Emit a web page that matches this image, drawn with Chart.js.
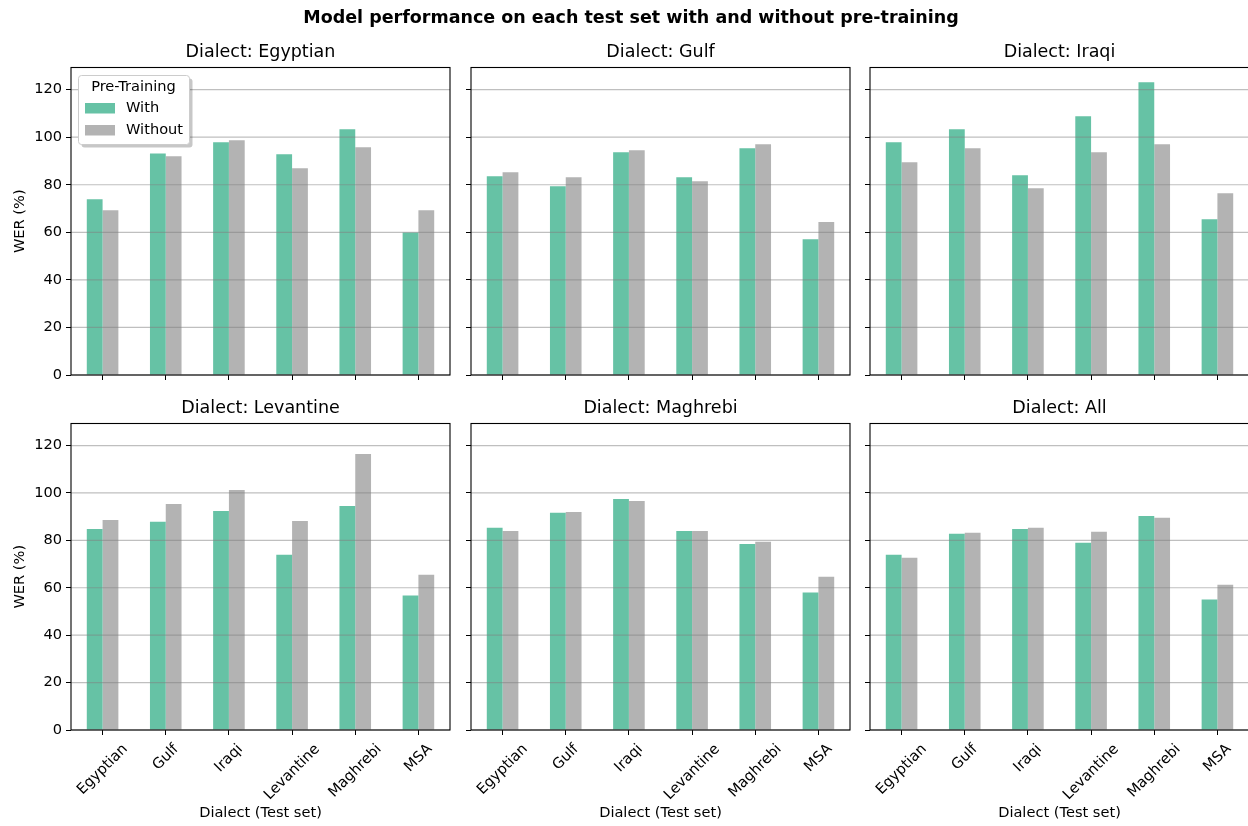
<!DOCTYPE html>
<html>
<head>
<meta charset="utf-8">
<title>WER by dialect</title>
<script src="https://cdn.jsdelivr.net/npm/chart.js@4.4.1/dist/chart.umd.min.js"></script>
<style>
  html, body { margin: 0; padding: 0; background: #fff; overflow: hidden; }
  #fig { position: relative; width: 1248px; height: 826px; overflow: hidden; }
  #fig canvas { position: absolute; left: 0; top: 0; }
</style>
</head>
<body>
<div id="fig"></div>
<script>
// test sets on the x axis
const categories = ["Egyptian", "Gulf", "Iraqi", "Levantine", "Maghrebi", "MSA"];
const seriesLabels = ["With", "Without"];
const yTicks = [0, 20, 40, 60, 80, 100, 120];

// WER (%) per training dialect, with / without pre-training
const egyptianWith = [73.9, 93.1, 97.9, 92.8, 103.3, 59.9];
const egyptianWithout = [69.3, 92.0, 98.7, 86.9, 95.8, 69.3];
const gulfWith = [83.6, 79.4, 93.7, 83.2, 95.3, 57.1];
const gulfWithout = [85.3, 83.2, 94.5, 81.5, 97.0, 64.3];
const iraqiWith = [97.9, 103.3, 84.0, 108.8, 123.1, 65.5];
const iraqiWithout = [89.5, 95.3, 78.5, 93.7, 97.0, 76.4];
const levantineWith = [84.8, 87.8, 92.4, 73.9, 94.5, 56.7];
const levantineWithout = [88.6, 95.3, 101.2, 88.2, 116.4, 65.5];
const maghrebiWith = [85.3, 91.6, 97.5, 84.0, 78.5, 58.0];
const maghrebiWithout = [84.0, 92.0, 96.6, 84.0, 79.4, 64.7];
const allWith = [73.9, 82.8, 84.8, 79.0, 90.3, 55.0];
const allWithout = [72.7, 83.2, 85.3, 83.6, 89.5, 61.3];

const panels = [
  { title: "Dialect: Egyptian", with: egyptianWith, without: egyptianWithout },
  { title: "Dialect: Gulf", with: gulfWith, without: gulfWithout },
  { title: "Dialect: Iraqi", with: iraqiWith, without: iraqiWithout },
  { title: "Dialect: Levantine", with: levantineWith, without: levantineWithout },
  { title: "Dialect: Maghrebi", with: maghrebiWith, without: maghrebiWithout },
  { title: "Dialect: All", with: allWith, without: allWithout }
];

const FONT = "'DejaVu Sans', sans-serif";
const TICK_SIZE = 14.6;
const COLORS = ["#66c2a5", "#b3b3b3"];
const Y_MAX = 129.3;

const W = 1250, H = 826;
const colLeft = [71, 471, 870];
const colRight = [450, 850, 1249];
const rowTop = [67.5, 423.5];
const rowBottom = [375, 730];
const Y_AXIS_W = 45, X_AXIS_H = 60;

const fig = document.getElementById("fig");

panels.forEach((p, i) => makePanel(p, i));

// ======================
// PANEL
// ======================

function makePanel(p, idx) {
  const row = Math.floor(idx / 3);
  const col = idx % 3;
  const L = colLeft[col], R = colRight[col], T = rowTop[row], B = rowBottom[row];

  const canvas = document.createElement("canvas");
  canvas.width = W;
  canvas.height = H;
  fig.appendChild(canvas);

  const decor = {
    id: "decor" + idx,
    afterDatasetsDraw(chart) {
      const ctx = chart.ctx;
      const area = chart.chartArea;
      const y = chart.scales.y;

      // horizontal grid on top of the bars
      ctx.save();
      ctx.strokeStyle = "rgba(128,128,128,0.5)";
      ctx.lineWidth = 1.2;
      yTicks.forEach(v => {
        const py = y.getPixelForValue(v);
        ctx.beginPath();
        ctx.moveTo(area.left, py);
        ctx.lineTo(area.right, py);
        ctx.stroke();
      });

      // axes frame
      ctx.strokeStyle = "#000";
      ctx.lineWidth = 1.1;
      ctx.strokeRect(area.left, area.top, area.right - area.left, area.bottom - area.top);
      ctx.restore();
    },
    afterDraw(chart) {
      const ctx = chart.ctx;
      const area = chart.chartArea;
      const cx = (area.left + area.right) / 2;

      ctx.save();
      ctx.fillStyle = "#000";
      ctx.textAlign = "center";
      ctx.textBaseline = "middle";

      // subplot title
      ctx.font = `17.5px ${FONT}`;
      ctx.fillText(p.title, cx, area.top - 15.5);

      // y axis title on the left column
      ctx.font = `${TICK_SIZE}px ${FONT}`;
      if (col === 0) {
        ctx.save();
        ctx.translate(20, (area.top + area.bottom) / 2);
        ctx.rotate(-Math.PI / 2);
        ctx.fillText("WER (%)", 0, 0);
        ctx.restore();
      }

      // rotated category labels + x title on the bottom row
      if (row === 1) {
        const xs = chart.scales.x;
        categories.forEach((c, i) => {
          const px = xs.getPixelForValue(i);
          const w = ctx.measureText(c).width;
          const ext = (w + 0.75 * TICK_SIZE) * Math.SQRT1_2;
          ctx.save();
          ctx.translate(px, area.bottom + 13 + ext / 2);
          ctx.rotate(-Math.PI / 4);
          ctx.fillText(c, 0, 0);
          ctx.restore();
        });
        ctx.fillText("Dialect (Test set)", cx, 813.5);
      }

      if (idx === 0) {
        ctx.font = `bold 17.5px ${FONT}`;
        ctx.fillText("Model performance on each test set with and without pre-training", 631, 18);
        drawLegend(chart);
      }
      ctx.restore();
    }
  };

  new Chart(canvas, {
    type: "bar",
    data: {
      labels: categories,
      datasets: [
        {
          label: seriesLabels[0],
          data: p.with,
          backgroundColor: COLORS[0],
          categoryPercentage: 0.5,
          barPercentage: 1.0
        },
        {
          label: seriesLabels[1],
          data: p.without,
          backgroundColor: COLORS[1],
          categoryPercentage: 0.5,
          barPercentage: 1.0
        }
      ]
    },
    options: {
      responsive: false,
      animation: false,
      devicePixelRatio: 1,
      layout: {
        padding: {
          left: L - Y_AXIS_W,
          right: W - R,
          top: T,
          bottom: H - B - X_AXIS_H
        }
      },
      plugins: {
        legend: { display: false },
        tooltip: { enabled: false },
        title: { display: false }
      },
      scales: {
        x: {
          offset: true,
          border: { display: false },
          grid: {
            offset: false,
            drawOnChartArea: false,
            drawTicks: true,
            tickLength: 5,
            color: "#000",
            lineWidth: 1
          },
          ticks: { display: false },
          afterFit: s => { s.height = X_AXIS_H; }
        },
        y: {
          min: 0,
          max: Y_MAX,
          border: { display: false },
          afterBuildTicks: s => { s.ticks = yTicks.map(v => ({ value: v })); },
          grid: {
            drawOnChartArea: false,
            drawTicks: true,
            tickLength: 5,
            color: "#000",
            lineWidth: 1
          },
          ticks: {
            display: col === 0,
            color: "#000",
            padding: 4,
            font: { family: FONT, size: TICK_SIZE }
          },
          afterFit: s => { s.width = Y_AXIS_W; }
        }
      }
    },
    plugins: [decor]
  });
}

// ======================
// LEGEND
// ======================

function drawLegend(chart) {
  const ctx = chart.ctx;
  const x = 78.5, y = 75.5, w = 111, h = 69;

  ctx.save();
  // shadow
  ctx.fillStyle = "rgba(0,0,0,0.22)";
  ctx.beginPath();
  ctx.roundRect(x + 3, y + 3, w, h, 3);
  ctx.fill();

  ctx.fillStyle = "#fff";
  ctx.strokeStyle = "#cccccc";
  ctx.lineWidth = 1;
  ctx.beginPath();
  ctx.roundRect(x, y, w, h, 3);
  ctx.fill();
  ctx.stroke();

  ctx.fillStyle = "#000";
  ctx.font = `${TICK_SIZE}px ${FONT}`;
  ctx.textAlign = "center";
  ctx.textBaseline = "middle";
  ctx.fillText("Pre-Training", x + 55, 87);

  ctx.textAlign = "left";
  chart.data.datasets.forEach((ds, i) => {
    const ry = 108.5 + i * 22;
    ctx.fillStyle = ds.backgroundColor;
    ctx.fillRect(85, ry - 5.5, 30, 10.5);
    ctx.fillStyle = "#000";
    ctx.fillText(ds.label, 126, ry);
  });
  ctx.restore();
}
</script>
</body>
</html>
